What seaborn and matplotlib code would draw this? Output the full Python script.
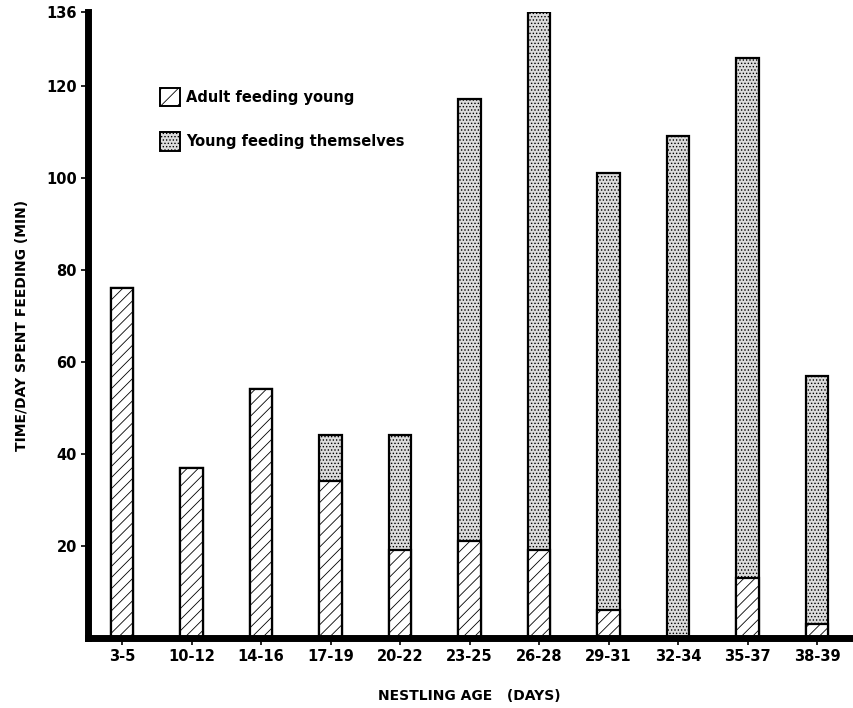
import pandas as pd
import numpy as np
import matplotlib
matplotlib.use("Agg")
import matplotlib.pyplot as plt
import seaborn as sns
from matplotlib.patches import Patch

# data (minutes per day)
ages = ['3-5', '10-12', '14-16', '17-19', '20-22', '23-25',
        '26-28', '29-31', '32-34', '35-37', '38-39']
adult_feeding = [76, 37, 54, 34, 19, 21, 19, 6, 0, 13, 3]
young_feeding = [0, 0, 0, 10, 25, 96, 117, 95, 109, 113, 54]

df = pd.DataFrame({'Age': ages, 'Adult': adult_feeding, 'Young': young_feeding})
df['Total'] = df['Adult'] + df['Young']

sns.set_style("ticks")
plt.rcParams['font.family'] = ['DejaVu Sans']
plt.rcParams['font.weight'] = 'bold'
plt.rcParams['hatch.linewidth'] = 0.6
for key in ['text.color', 'axes.labelcolor', 'xtick.color', 'ytick.color', 'axes.edgecolor']:
    plt.rcParams[key] = 'black'

fig = plt.figure(figsize=(8.54, 7.08), dpi=100)
ax = fig.add_axes([0.103, 0.099, 0.892, 0.884])

# stippled part first (full height), hatched adult part on top
sns.barplot(data=df, x='Age', y='Total', order=ages, color='#dcdcdc',
            edgecolor='black', linewidth=1.6, width=0.32, hatch='.....',
            saturation=1, ax=ax)
sns.barplot(data=df[df['Adult'] > 0], x='Age', y='Adult', order=ages, color='white',
            edgecolor='black', linewidth=1.6, width=0.32, hatch='///',
            saturation=1, ax=ax)

ax.set_xlim(-0.49, 10.47)
ax.set_ylim(0, 136)
ax.set_yticks([20, 40, 60, 80, 100, 120, 136])
ax.set_yticklabels(['20', '40', '60', '80', '100', '120', '136'])
ax.tick_params(axis='both', labelsize=10.5, width=1.2, length=5, pad=3)

for side in ['top', 'right']:
    ax.spines[side].set_visible(False)
ax.spines['left'].set_linewidth(5)
ax.spines['bottom'].set_linewidth(5)

ax.set_xlabel('NESTLING AGE   (DAYS)', fontsize=10, fontweight='bold', labelpad=18)
ax.set_ylabel('TIME/DAY SPENT FEEDING (MIN)', fontsize=10, fontweight='bold', labelpad=12)

handles = [Patch(facecolor='white', edgecolor='black', hatch='//', linewidth=1.4),
           Patch(facecolor='#dcdcdc', edgecolor='black', hatch='.....', linewidth=1.4)]
ax.legend(handles, ['Adult feeding young', 'Young feeding themselves'],
          loc='upper left', bbox_to_anchor=(0.077, 0.9), frameon=False,
          fontsize=10.5, handlelength=1.4, handleheight=1.6, labelspacing=1.75,
          handletextpad=0.4)

fig.savefig('out.png', dpi=100)
